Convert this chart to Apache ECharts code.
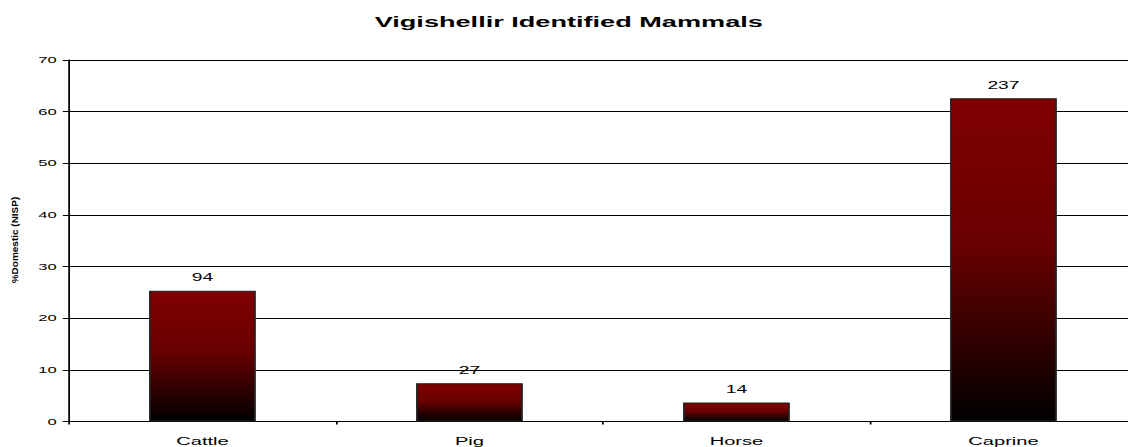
<!DOCTYPE html>
<html>
<head>
<meta charset="utf-8">
<script src="https://cdn.jsdelivr.net/npm/echarts@6/dist/echarts.min.js"></script>
<style>
  html, body { margin: 0; padding: 0; background: #fff; overflow: hidden; }
  /* the reference is stretched sideways, so the chart is drawn narrow and widened */
  #chart { width: 650px; height: 447px; transform: scaleX(1.75); transform-origin: 0 0; }
</style>
</head>
<body>
<div id="chart"></div>
<script>
  const categories = ["Cattle", "Pig", "Horse", "Caprine"];
  const percentages = [25.3, 7.4, 3.7, 62.6];
  const counts = [94, 27, 14, 237];
  const yTicks = { min: 0, max: 70, interval: 10 };

  const font = "Liberation Sans, Arial, sans-serif";
  const chart = echarts.init(document.getElementById("chart"), null, { renderer: "svg" });

  const option = {
    backgroundColor: "#fff",
    animation: false,
    title: {
      text: "Vigishellir Identified Mammals",
      left: "center",
      top: 9,
      textStyle: { fontFamily: font, fontSize: 15.5, fontWeight: "bold", color: "#000" },
    },
    grid: { left: 39.4, width: 610.3, top: 60, bottom: 25.5 },
    graphic: [
      {
        type: "text",
        x: 8.3,
        y: 240,
        rotation: Math.PI / 2,
        scaleY: 0.5,
        style: {
          text: "%Domestic (NISP)",
          font: "bold 10px " + font,
          fill: "#000",
          align: "center",
          verticalAlign: "middle",
        },
      },
    ],
    xAxis: {
      type: "category",
      data: categories,
      axisLine: { lineStyle: { color: "#000", width: 1 } },
      axisTick: { show: true, length: 3, interval: 0, lineStyle: { color: "#000" } },
      axisLabel: { margin: 13, fontFamily: font, fontSize: 11.5, color: "#000" },
    },
    yAxis: {
      type: "value",
      min: yTicks.min,
      max: yTicks.max,
      interval: yTicks.interval,
      axisLine: { show: true, lineStyle: { color: "#000", width: 1 } },
      axisTick: { show: true, length: 3.5, lineStyle: { color: "#000" } },
      axisLabel: { margin: 7, fontFamily: font, fontSize: 9.5, color: "#000" },
      splitLine: { show: true, lineStyle: { color: "#000", width: 1 } },
    },
    series: [
      {
        type: "bar",
        barCategoryGap: "60%",
        data: percentages.map((v, i) => ({ value: v, count: counts[i] })),
        itemStyle: {
          borderColor: "#222",
          borderWidth: 1,
          color: new echarts.graphic.LinearGradient(0, 0, 0, 1, [
            { offset: 0, color: "#800000" },
            { offset: 0.45, color: "#6a0000" },
            { offset: 1, color: "#000000" },
          ]),
        },
        label: {
          show: true,
          position: "top",
          distance: 8,
          fontFamily: font,
          fontSize: 11,
          color: "#000",
          formatter: (p) => counts[p.dataIndex],
        },
      },
    ],
  };

  chart.setOption(option);
</script>
</body>
</html>
